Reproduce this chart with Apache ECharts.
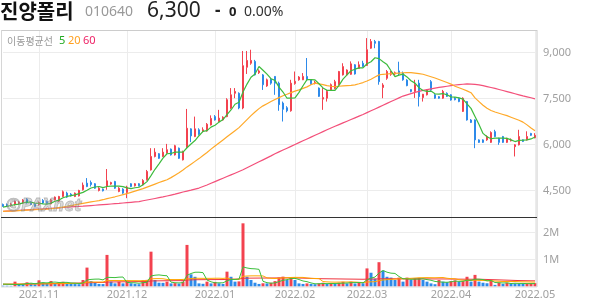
<!DOCTYPE html>
<html><head><meta charset="utf-8">
<script src="https://cdn.jsdelivr.net/npm/echarts@6/dist/echarts.min.js"></script>
<style>html,body{margin:0;padding:0;background:#fff}#c{width:594px;height:304px}</style>
</head><body><div id="c"></div>
<script>
const dates = [
'2021.10.19','2021.10.20','2021.10.21','2021.10.22','2021.10.25','2021.10.26','2021.10.27','2021.10.28','2021.10.29',
'2021.11.01','2021.11.02','2021.11.03','2021.11.04','2021.11.05','2021.11.08','2021.11.09','2021.11.10','2021.11.11','2021.11.12','2021.11.15','2021.11.16','2021.11.17','2021.11.18','2021.11.19','2021.11.22','2021.11.23','2021.11.24','2021.11.25','2021.11.26','2021.11.29','2021.11.30',
'2021.12.01','2021.12.02','2021.12.03','2021.12.06','2021.12.07','2021.12.08','2021.12.09','2021.12.10','2021.12.13','2021.12.14','2021.12.15','2021.12.16','2021.12.17','2021.12.20','2021.12.21','2021.12.22','2021.12.23','2021.12.24','2021.12.27','2021.12.28','2021.12.29','2021.12.30',
'2022.01.03','2022.01.04','2022.01.05','2022.01.06','2022.01.07','2022.01.10','2022.01.11','2022.01.12','2022.01.13','2022.01.14','2022.01.17','2022.01.18','2022.01.19','2022.01.20','2022.01.21','2022.01.24','2022.01.25','2022.01.26','2022.01.27','2022.01.28',
'2022.02.03','2022.02.04','2022.02.07','2022.02.08','2022.02.09','2022.02.10','2022.02.11','2022.02.14','2022.02.15','2022.02.16','2022.02.17','2022.02.18','2022.02.21','2022.02.22','2022.02.23','2022.02.24','2022.02.25','2022.02.28',
'2022.03.02','2022.03.03','2022.03.04','2022.03.07','2022.03.08','2022.03.10','2022.03.11','2022.03.14','2022.03.15','2022.03.16','2022.03.17','2022.03.18','2022.03.21','2022.03.22','2022.03.23','2022.03.24','2022.03.25','2022.03.28','2022.03.29','2022.03.30','2022.03.31',
'2022.04.01','2022.04.04','2022.04.05','2022.04.06','2022.04.07','2022.04.08','2022.04.11','2022.04.12','2022.04.13','2022.04.14','2022.04.15','2022.04.18','2022.04.19','2022.04.20','2022.04.21','2022.04.22','2022.04.25','2022.04.26','2022.04.27','2022.04.28','2022.04.29',
'2022.05.02'];

const opens = [4045,4045,4000,4035,4075,4090,4220,4130,4065,4035,
4175,4140,4065,4195,4155,4305,4415,4380,4305,4325,
4525,4740,4760,4720,4500,4545,4630,4710,4795,4470,
4545,4435,4720,4655,4720,4685,4850,5170,5610,5700,
5610,5720,5850,5660,5880,5500,5900,6510,6260,6480,
6420,6440,6640,6910,6750,6800,6910,7185,7670,7670,
7190,8520,8650,8710,8340,8270,7910,8130,8220,8000,
7350,7200,7100,7990,8110,8110,8220,8110,7990,7840,
7480,7510,7780,7830,7950,8270,8270,8290,8600,8480,
8650,8580,9140,9360,9360,7860,8160,8290,8300,8400,
8320,8100,7790,7730,8000,7530,7620,8050,7620,7560,
7510,7670,7620,7510,7510,7080,7400,6800,6800,6150,
6150,6150,6070,6420,6200,6260,6070,6120,5930,5990,
6150,6150,6360,6220];
const closes = [3980,3990,4055,4140,4120,4185,4100,4045,3980,4110,
4090,4065,4195,4285,4305,4460,4285,4325,4415,4500,
4675,4630,4695,4575,4575,4490,4815,4760,4575,4575,
4415,4610,4630,4720,4655,4825,5120,5610,5750,5550,
5750,5830,5660,5960,5550,5770,6530,6280,6510,6340,
6480,6660,6850,6800,6860,6890,7460,7620,7730,7190,
8570,8740,8740,8270,8400,7950,8110,8000,8000,7300,
7150,7100,8000,8060,8200,8220,8110,7980,8030,7570,
7530,7730,7950,8050,8380,8540,8430,8630,8300,8600,
8540,9090,9360,9300,8050,7940,8380,8350,8340,8300,
8110,7920,7730,7950,7560,7640,7780,7780,7510,7510,
7730,7570,7450,7460,7400,7510,6800,6720,6150,6070,
6070,6260,6390,6260,6070,6070,6200,6150,5990,6260,
6100,6260,6300,6300];
const lows = [3970,3970,3980,4010,4055,4075,4075,4025,3970,4010,
4065,4045,4045,4175,4130,4285,4260,4305,4285,4305,
4500,4610,4630,4555,4470,4470,4525,4685,4555,4445,
4390,4250,4610,4630,4630,4665,4825,5150,5580,5530,
5590,5700,5640,5640,5530,5480,5880,6080,6240,6300,
6400,6420,6620,6780,6730,6780,6890,7150,7510,7150,
7150,8300,8600,8250,8300,7780,7880,7950,7620,7100,
6750,7050,7070,7950,8080,8100,8080,7950,7960,7550,
7130,7400,7760,7800,7930,8250,8250,8270,8280,8470,
8520,8560,9120,9140,7950,7510,8110,8240,8260,8250,
8080,7900,7700,7520,7240,7400,7600,7750,7490,7490,
7490,7550,7430,7440,7380,7060,6780,6700,5880,6050,
6050,6120,6050,6240,5990,6050,6050,6100,5610,5970,
6080,6130,6280,6200];
const highs = [4075,4075,4090,4175,4155,4220,4250,4155,4090,4140,
4220,4175,4230,4305,4325,4500,4460,4415,4435,4525,
4760,4905,4825,4740,4610,4565,5200,4785,4815,4610,
4575,4655,4740,4740,4740,4870,5170,5880,5880,5720,
5880,6020,5870,5990,5900,5800,7160,6530,6910,6530,
6560,6700,6950,6960,7130,6920,7510,7840,7840,7700,
9050,9050,9090,8760,8450,8300,8150,8170,8230,8050,
7400,7250,8110,8380,8230,8330,8820,8130,8080,7860,
7840,7780,7990,8110,8400,8650,8450,8710,8620,8710,
8730,9470,9440,9410,9380,8000,8430,8400,8380,8700,
8380,8130,7800,8110,8110,7650,7800,8100,7640,7580,
7780,7700,7640,7550,7530,7540,7420,6830,6820,6170,
6170,6300,6430,6480,6220,6280,6220,6200,6010,6480,
6170,6430,6380,6370];

const ma5 = [3960,3985,4010,4040,4057,4098,4120,4118,4086,4084,
4065,4058,4088,4149,4188,4262,4306,4332,4358,4397,
4440,4509,4583,4615,4630,4593,4630,4643,4643,4643,
4628,4587,4561,4590,4606,4688,4790,4986,5192,5371,
5556,5698,5708,5750,5750,5754,5894,6018,6128,6286,
6428,6454,6568,6626,6730,6812,6972,7126,7312,7378,
7714,7970,8194,8302,8544,8420,8294,8146,8092,7872,
7712,7510,7510,7522,7702,7916,8118,8114,8108,7982,
7844,7768,7762,7766,7928,8130,8270,8406,8456,8500,
8500,8632,8700,8830,8800,8700,8606,8404,8212,8262,
8296,8204,8080,8002,7854,7760,7732,7742,7654,7644,
7662,7620,7554,7544,7522,7478,7324,7178,6916,6650,
6362,6254,6188,6210,6210,6210,6198,6150,6096,6134,
6140,6152,6182,6244];
const ma20 = [3820,3825,3830,3838,3845,3852,3860,3866,3872,3880,
3888,3895,3905,3920,3940,3960,3980,4005,4030,4055,
4080,4105,4130,4150,4170,4200,4235,4265,4295,4330,
4365,4400,4440,4480,4520,4560,4610,4660,4710,4760,
4805,4850,4920,5000,5080,5170,5270,5360,5450,5540,
5640,5740,5850,5950,6050,6150,6250,6350,6450,6550,
6680,6810,6940,7060,7170,7260,7330,7400,7470,7530,
7590,7640,7690,7740,7780,7830,7880,7950,8000,7980,
7950,7920,7900,7890,7900,7910,7920,7930,7946,7980,
8020,8070,8130,8200,8270,8290,8300,8310,8320,8330,
8340,8345,8345,8330,8310,8290,8250,8210,8170,8120,
8070,8020,7970,7900,7850,7800,7750,7690,7520,7400,
7280,7180,7110,7060,7020,6980,6940,6890,6840,6790,
6730,6640,6540,6450];
const ma60 = [3820,3828,3836,3844,3852,3860,3868,3876,3884,3892,
3900,3909,3918,3927,3936,3945,3954,3963,3972,3981,
3990,4000,4010,4020,4030,4040,4050,4060,4070,4080,
4092,4104,4116,4128,4140,4165,4190,4215,4240,4265,
4290,4320,4350,4380,4415,4450,4480,4510,4545,4580,
4630,4680,4735,4790,4845,4900,4955,5010,5065,5120,
5175,5240,5305,5370,5435,5500,5565,5630,5700,5760,
5820,5880,5940,6000,6060,6120,6180,6240,6300,6360,
6420,6480,6540,6595,6650,6705,6760,6815,6870,6925,
6980,7040,7100,7160,7220,7280,7340,7400,7460,7520,
7580,7620,7660,7700,7735,7765,7790,7815,7840,7860,
7880,7900,7920,7940,7955,7965,7975,7970,7960,7945,
7920,7890,7860,7830,7795,7760,7725,7690,7655,7620,
7585,7555,7525,7490];

// volume in thousands of shares
const volumeK = [30,28,25,180,95,90,155,95,80,230,
150,115,205,120,150,175,115,95,90,85,
240,700,200,140,95,90,1170,180,115,175,
115,175,120,100,85,230,245,1290,240,140,
135,180,115,125,110,180,1540,450,360,115,
100,180,115,170,120,95,550,360,180,190,
2340,360,240,140,95,120,115,140,200,330,
365,240,330,240,115,95,115,95,85,115,
140,95,115,95,140,175,115,180,110,155,
120,670,510,290,900,590,360,330,240,330,
180,330,240,300,320,240,180,115,85,240,
180,160,200,225,180,200,360,180,430,180,
140,120,240,60,140,95,140,120,110,100,
95,110,118,125];
const volMa5K = [90,85,80,75,72,84,109,123,103,130,
142,134,156,164,148,153,153,131,125,112,
125,242,263,273,275,245,339,335,330,346,
351,152,140,137,119,142,156,390,418,429,
410,397,162,139,133,142,414,481,528,529,
513,241,174,136,137,136,210,259,261,275,
724,686,662,654,635,191,142,122,134,181,
230,255,293,301,258,204,179,132,101,101,
110,106,110,112,117,124,128,141,144,147,
136,247,313,349,498,592,530,494,484,370,
288,282,264,276,274,286,256,231,188,172,
160,156,173,201,189,193,233,229,270,270,
258,210,222,148,140,131,135,111,121,113,
113,107,107,110];
const volMa20K = [85,86,87,88,90,91,92,94,95,97,
98,100,101,103,105,107,109,111,113,115,
126,160,168,166,166,166,217,221,223,220,
219,222,217,216,213,216,222,282,290,292,
287,261,257,256,257,261,280,293,306,303,
302,302,302,305,307,300,316,269,266,269,
379,388,394,395,394,391,320,304,296,307,
320,323,334,338,337,337,316,302,298,294,
184,171,164,162,164,167,167,169,165,156,
144,165,174,177,216,241,253,265,272,283,
285,297,303,313,322,326,329,326,324,329,
332,306,291,287,251,232,232,224,234,226,
224,214,214,202,193,186,184,184,185,178,
174,171,167,162];
const volMa60K = [80,82,84,86,88,90,92,94,96,98,
100,103,106,109,112,115,118,121,124,127,
130,138,142,145,147,149,165,168,170,172,
174,176,178,180,182,184,186,205,208,210,
212,214,215,216,217,218,240,245,250,252,
253,254,255,256,257,258,265,268,270,272,
305,308,310,311,312,313,314,315,316,318,
320,318,316,314,312,310,305,300,295,290,
288,286,284,282,280,278,276,274,272,270,
268,272,275,277,282,285,287,288,286,285,
284,284,283,283,283,282,282,281,280,280,
279,278,276,274,272,271,270,269,269,268,
265,260,255,250,245,240,235,230,225,220,
217,214,211,209];

const priceTicks = [4500, 6000, 7500, 9000];
const volumeTicksK = [1000, 2000];

const RED = '#f3424f', BLUE = '#2d8aea';
const monthStart = dates.map((d, i) => i > 0 && d.slice(0, 7) !== dates[i - 1].slice(0, 7));
const candleData = dates.map((d, i) => [opens[i], closes[i], lows[i], highs[i]]);
const volData = volumeK.map((v, i) => ({ value: v, itemStyle: { color: (i > 0 && v > volumeK[i - 1]) ? RED : BLUE } }));

const GRID = '#ececec';
const LBL = { color: '#a0a0a0', fontSize: 11, fontFamily: 'Noto Sans' };

const chart = echarts.init(document.getElementById('c'), null, { renderer: 'canvas' });
chart.setOption({
  animation: false,
  backgroundColor: '#ffffff',
  grid: [
    { left: 3, right: 59, top: 30, bottom: 87 },
    { left: 3, right: 59, top: 217, bottom: 17.5 }
  ],
  xAxis: [
    { type: 'category', gridIndex: 0, data: dates, boundaryGap: false,
      axisLine: { show: false }, axisTick: { show: false }, axisLabel: { show: false },
      splitLine: { show: true, interval: (i) => monthStart[i], lineStyle: { color: GRID, width: 1 } } },
    { type: 'category', gridIndex: 1, data: dates, boundaryGap: false,
      axisLine: { show: false }, axisTick: { show: false },
      axisLabel: Object.assign({ show: true, interval: (i) => monthStart[i], formatter: (v) => v.slice(0, 7), margin: 3 }, LBL),
      splitLine: { show: true, interval: (i) => monthStart[i], lineStyle: { color: GRID, width: 1 } } }
  ],
  yAxis: [
    { type: 'value', gridIndex: 0, position: 'right', min: 3636, max: 9734,
      axisLine: { show: false }, axisTick: { show: false, customValues: priceTicks },
      axisLabel: Object.assign({ customValues: priceTicks, margin: 8, padding: [3, 0, 0, 0],
        formatter: (v) => priceTicks.indexOf(v) >= 0 ? v.toLocaleString('en-US') : '' }, LBL),
      splitLine: { show: true, lineStyle: { color: GRID, width: 1 } } },
    { type: 'value', gridIndex: 1, position: 'right', min: 0, max: 2574,
      axisLine: { show: false }, axisTick: { show: false, customValues: volumeTicksK },
      axisLabel: Object.assign({ customValues: volumeTicksK, margin: 8, padding: [3, 0, 0, 0],
        formatter: (v) => volumeTicksK.indexOf(v) >= 0 ? (v / 1000) + 'M' : '' }, LBL),
      splitLine: { show: true, lineStyle: { color: GRID, width: 1 } } }
  ],
  series: [
    { type: 'candlestick', xAxisIndex: 0, yAxisIndex: 0, data: candleData, barWidth: 2, clip: false,
      itemStyle: { color: RED, color0: BLUE, borderColor: RED, borderColor0: BLUE, borderWidth: 1 } },
    { type: 'line', xAxisIndex: 0, yAxisIndex: 0, data: ma60, showSymbol: false, lineStyle: { color: '#f3507a', width: 1.2 } },
    { type: 'line', xAxisIndex: 0, yAxisIndex: 0, data: ma20, showSymbol: false, lineStyle: { color: '#ffa928', width: 1.2 } },
    { type: 'line', xAxisIndex: 0, yAxisIndex: 0, data: ma5, showSymbol: false, lineStyle: { color: '#3dbb3d', width: 1.2 } },
    { type: 'bar', xAxisIndex: 1, yAxisIndex: 1, data: volData, barWidth: 3 },
    { type: 'line', xAxisIndex: 1, yAxisIndex: 1, data: volMa60K, showSymbol: false, lineStyle: { color: '#f0353f', width: 1 } },
    { type: 'line', xAxisIndex: 1, yAxisIndex: 1, data: volMa20K, showSymbol: false, lineStyle: { color: '#ffa500', width: 1 } },
    { type: 'line', xAxisIndex: 1, yAxisIndex: 1, data: volMa5K, showSymbol: false, lineStyle: { color: '#3cbf3c', width: 1 } }
  ],
  graphic: [
    { type: 'text', x: 0, y: 11, z: 100, style: { text: '진양폴리', font: 'bold 20px "Noto Sans CJK KR"', fill: '#111', verticalAlign: 'middle' } },
    { type: 'text', x: 85, y: 12, z: 100, style: { text: '010640', font: '14px "Noto Sans"', fill: '#999', verticalAlign: 'middle' } },
    { type: 'text', x: 147, y: 11, z: 100, style: { text: '6,300', font: '21px "Noto Sans"', fill: '#222', verticalAlign: 'middle' } },
    { type: 'text', x: 215, y: 11, z: 100, style: { text: '-', font: 'bold 17px "Noto Sans"', fill: '#222', verticalAlign: 'middle' } },
    { type: 'text', x: 229, y: 12.5, z: 100, style: { text: '0', font: 'bold 13px "Noto Sans"', fill: '#222', verticalAlign: 'middle' } },
    { type: 'text', x: 244, y: 12.5, z: 100, style: { text: '0.00%', font: '14px "Noto Sans"', fill: '#333', verticalAlign: 'middle' } },
    { type: 'text', x: 7, y: 41, z: 100, style: { text: '이동평균선', font: '10px "Noto Sans CJK KR"', fill: '#999', verticalAlign: 'middle' } },
    { type: 'text', x: 59, y: 41, z: 100, style: { text: '5', font: '11px "Noto Sans"', fill: '#22aa22', verticalAlign: 'middle' } },
    { type: 'text', x: 68, y: 41, z: 100, style: { text: '20', font: '11px "Noto Sans"', fill: '#ffa020', verticalAlign: 'middle' } },
    { type: 'text', x: 83, y: 41, z: 100, style: { text: '60', font: '11px "Noto Sans"', fill: '#ee2266', verticalAlign: 'middle' } },
    { type: 'text', x: 6, y: 206, z: 100, style: { text: '©PAXnet', font: 'italic bold 18px "Noto Sans"', fill: 'rgba(165,165,165,0.4)', stroke: 'rgba(110,110,110,0.45)', lineWidth: 0.8, verticalAlign: 'middle' } },
    { type: 'line', z: 100, shape: { x1: 1, y1: 30.5, x2: 537, y2: 30.5 }, style: { stroke: '#cccccc', lineWidth: 1 } },
    { type: 'line', z: 100, shape: { x1: 1.5, y1: 30, x2: 1.5, y2: 287 }, style: { stroke: '#d6d6d6', lineWidth: 1 } },
    { type: 'line', z: 100, shape: { x1: 537, y1: 30, x2: 537, y2: 287 }, style: { stroke: '#cccccc', lineWidth: 1 } },
    { type: 'line', z: 100, shape: { x1: 1, y1: 287, x2: 537, y2: 287 }, style: { stroke: '#dddddd', lineWidth: 1 } },
    { type: 'line', z: 100, shape: { x1: 1, y1: 217.5, x2: 537, y2: 217.5 }, style: { stroke: '#333333', lineWidth: 1 } }
  ]
});
</script>
</body></html>
